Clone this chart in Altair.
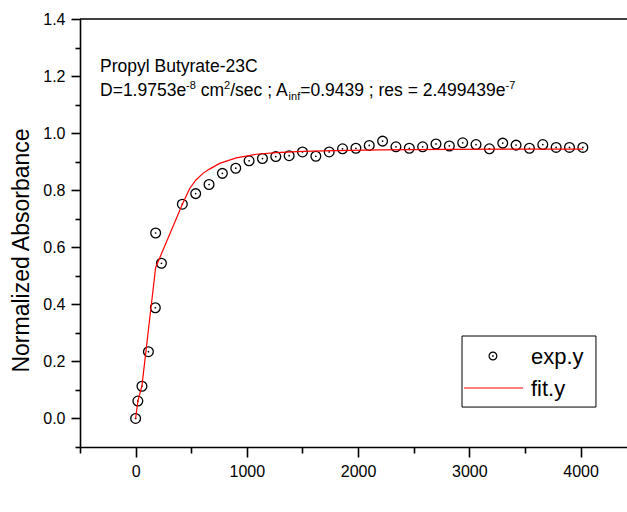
import altair as alt
import pandas as pd

# ---------------- data ----------------
t_exp = [0, 20, 57, 115, 177, 180, 232, 420, 540, 660, 780, 900, 1020, 1140,
         1260, 1380, 1500, 1620, 1740, 1860, 1980, 2100, 2220, 2340, 2460,
         2580, 2700, 2820, 2940, 3060, 3180, 3300, 3420, 3540, 3660, 3780,
         3900, 4020]
y_exp = [0.0, 0.061, 0.113, 0.234, 0.388, 0.650, 0.544, 0.751, 0.788, 0.820,
         0.859, 0.877, 0.903, 0.911, 0.918, 0.921, 0.934, 0.919, 0.934, 0.945,
         0.947, 0.957, 0.972, 0.952, 0.947, 0.952, 0.962, 0.955, 0.966, 0.960,
         0.945, 0.965, 0.958, 0.947, 0.960, 0.950, 0.950, 0.950]

t_fit = [0, 20, 57, 180, 420, 485, 540, 605, 660, 755, 905, 1085, 1265, 1500,
         1800, 2200, 2800, 3400, 4020]
y_fit = [0.0, 0.060, 0.115, 0.529, 0.751, 0.805, 0.835, 0.859, 0.873, 0.894,
         0.913, 0.926, 0.932, 0.936, 0.939, 0.941, 0.943, 0.9438, 0.9439]

x_major_ticks = [0, 1000, 2000, 3000, 4000]
x_minor_ticks = [-500, 500, 1500, 2500, 3500]
y_major_ticks = [0.0, 0.2, 0.4, 0.6, 0.8, 1.0, 1.2, 1.4]
y_minor_ticks = [-0.1, 0.1, 0.3, 0.5, 0.7, 0.9, 1.1, 1.3]

title_line1 = "Propyl Butyrate-23C"
# (text, kind) kind: n = normal, sup = superscript, sub = subscript
title_line2 = [("D=1.9753e", "n"), ("-8", "sup"), (" cm", "n"), ("2", "sup"),
               ("/sec ; A", "n"), ("inf", "sub"),
               ("=0.9439 ; res = 2.499439e", "n"), ("-7", "sup")]

legend_labels = ["exp.y", "fit.y"]

# ---------------- styling ----------------
FONT = "Liberation Sans"
MAIN = 17.5
SMALL = 11

ARIAL = {'D': 722, '=': 584, '.': 278, 'e': 556, '-': 333, ' ': 278, 'c': 500,
         'm': 833, '/': 278, 's': 500, ';': 278, 'A': 667, 'i': 222, 'n': 556,
         'f': 278, 'r': 333}


def text_width(s, size):
    return sum(ARIAL.get(ch, 556) for ch in s) / 1000.0 * size


exp_df = pd.DataFrame({"t": t_exp, "a": y_exp})
fit_df = pd.DataFrame({"t": t_fit, "a": y_fit})

xscale = alt.Scale(domain=[-500, 4417], nice=False, zero=False)
yscale = alt.Scale(domain=[-0.1, 1.4], nice=False, zero=False)

common = dict(grid=False, domainColor="black", domainWidth=1.6,
              tickColor="black", tickWidth=1.6, labelFont=FONT,
              labelFontSize=16, labelColor="black", labelPadding=6,
              titleFont=FONT, titleFontSize=23, titleFontWeight="normal",
              titleColor="black")

x_axis = alt.Axis(values=x_major_ticks, format="d", title="time (sec)",
                  tickSize=10, titleX=277, titleY=490,
                  titleBaseline="alphabetic", **common)
y_axis = alt.Axis(values=y_major_ticks, format=".1f",
                  title="Normalized Absorbance", tickSize=9, titleX=-59,
                  titleY=231, titleAngle=270, titleBaseline="middle", **common)

x_minor_axis = alt.Axis(values=x_minor_ticks, orient="bottom", labels=False,
                        domain=False, grid=False, tickSize=6, tickWidth=1.6,
                        tickColor="black", title=None)
y_minor_axis = alt.Axis(values=y_minor_ticks, orient="left", labels=False,
                        domain=False, grid=False, tickSize=5, tickWidth=1.6,
                        tickColor="black", title=None)

base_exp = alt.Chart(exp_df).encode(
    x=alt.X("t:Q", scale=xscale, axis=x_axis),
    y=alt.Y("a:Q", scale=yscale, axis=y_axis),
)
points = base_exp.mark_point(shape="circle", filled=False, color="black",
                             strokeWidth=1.3, size=95, opacity=1)
dots = base_exp.mark_point(shape="circle", filled=True, color="black",
                           size=3, opacity=1)

fit = alt.Chart(fit_df).mark_line(color="#ff0000", strokeWidth=1.2).encode(
    x=alt.X("t:Q", scale=xscale), y=alt.Y("a:Q", scale=yscale))

top_rule = alt.Chart().mark_rule(color="black", strokeWidth=1.6).encode(
    y=alt.datum(1.4))

layers = [points, dots, fit, top_rule]

# annotation text
ax, ay1, ay2 = -320, 1.214, 1.13
layers.append(alt.Chart().mark_text(
    align="left", baseline="alphabetic", font=FONT, fontSize=MAIN,
    color="black", text=title_line1).encode(x=alt.datum(ax), y=alt.datum(ay1)))
off = 0.0
for txt, kind in title_line2:
    size = MAIN if kind == "n" else SMALL
    dy = {"n": 0, "sup": -7, "sub": 3.5}[kind]
    lead = len(txt) - len(txt.lstrip(" "))
    off += text_width(" " * lead, size)
    core = txt.strip(" ")
    layers.append(alt.Chart().mark_text(
        align="left", baseline="alphabetic", font=FONT, fontSize=size,
        color="black", text=core, dx=off, dy=dy).encode(
        x=alt.datum(ax), y=alt.datum(ay2)))
    off += text_width(txt.lstrip(" "), size)

# legend box
layers.append(alt.Chart().mark_rect(fill="white", stroke="black",
                                    strokeWidth=1).encode(
    x=alt.datum(2934), x2=alt.datum(4138), y=alt.datum(0.289),
    y2=alt.datum(0.040)))
layers.append(alt.Chart().mark_point(shape="circle", filled=False,
                                     color="black", strokeWidth=1.2,
                                     size=60, opacity=1).encode(
    x=alt.datum(3212), y=alt.datum(0.219)))
layers.append(alt.Chart().mark_point(shape="circle", filled=True,
                                     color="black", size=3,
                                     opacity=1).encode(
    x=alt.datum(3212), y=alt.datum(0.219)))
layers.append(alt.Chart().mark_rule(color="#ff0000", strokeWidth=1.2).encode(
    x=alt.datum(2952), x2=alt.datum(3483), y=alt.datum(0.1068)))
for lab, yy in zip(legend_labels, [0.191, 0.0787]):
    layers.append(alt.Chart().mark_text(
        align="left", baseline="alphabetic", font=FONT, fontSize=22,
        color="black", text=lab).encode(x=alt.datum(3554), y=alt.datum(yy)))

main = alt.layer(*layers)

# invisible layer that only carries the minor-tick axes
minor = alt.Chart(exp_df).mark_point(opacity=0).encode(
    x=alt.X("t:Q", scale=xscale, axis=x_minor_axis),
    y=alt.Y("a:Q", scale=yscale, axis=y_minor_axis),
)

chart = alt.layer(main, minor).resolve_scale(
    x="independent", y="independent"
).properties(
    width=547, height=428,
    autosize=alt.AutoSizeParams(type="none"),
    padding={"left": 80, "top": 19, "right": 0, "bottom": 65},
    background="white",
).configure_view(stroke=None)

chart.save("out.html", embed_options={"renderer": "svg", "actions": False})
